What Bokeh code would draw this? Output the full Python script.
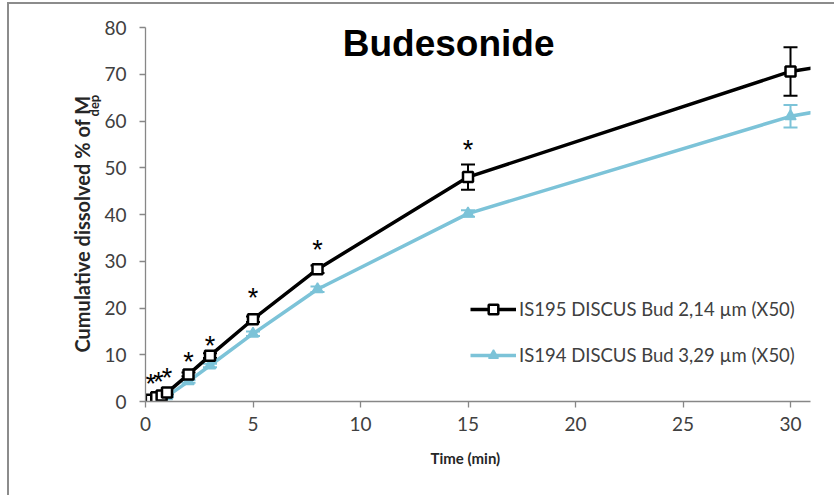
from bokeh.plotting import figure
from bokeh.models import (ColumnDataSource, Range1d, FixedTicker, Label, Legend,
                          LegendItem, Whisker, TeeHead, Title)
from bokeh.core.properties import value
from bokeh.embed import file_html
from bokeh.resources import INLINE

# ---- data ----
time_min = [0, 0.25, 0.5, 0.75, 1, 2, 3, 5, 8, 15, 30, 45]
bud_214 = [0, 0.4, 0.9, 1.3, 1.9, 5.8, 9.8, 17.6, 28.3, 48.0, 70.6, 81.5]
bud_214_sd = [0, 0.1, 0.1, 0.2, 0.2, 0.4, 0.5, 0.6, 0.8, 2.7, 5.2, 4.0]
bud_329 = [0, 0.2, 0.4, 0.7, 1.1, 4.3, 7.7, 14.5, 24.0, 40.2, 61.0, 73.5]
bud_329_sd = [0, 0.1, 0.1, 0.1, 0.2, 0.3, 0.4, 0.5, 0.6, 0.7, 2.4, 2.0]
star_time = [0.25, 0.6, 1.0, 2, 3, 5, 8, 15]
star_level = [4.9, 5.3, 6.0, 9.6, 13.0, 23.3, 33.4, 54.8]
x_ticks = [0, 5, 10, 15, 20, 25, 30]
y_ticks = [0, 10, 20, 30, 40, 50, 60, 70, 80]
label_214 = "IS195 DISCUS Bud 2,14 µm (X50)"
label_329 = "IS194 DISCUS Bud 3,29 µm (X50)"

BLACK = "#000000"
CYAN = "#7cc3d8"
AXIS = "#878787"
TXT = "#404040"
LBL = "#262626"
FONT = "Lato"

p = figure(width=827, height=493, output_backend="svg", toolbar_location=None,
           x_range=Range1d(0, 30.93), y_range=Range1d(0, 80),
           min_border_left=136, min_border_right=26, min_border_top=23,
           min_border_bottom=96)
p.styles = {"margin-left": "7px", "margin-top": "2px",
            "border-left": "2px solid #8c8c8c", "border-top": "2px solid #8c8c8c"}
p.outline_line_color = None
p.xgrid.visible = False
p.ygrid.visible = False

for ax in (p.xaxis[0], p.yaxis[0]):
    ax.axis_line_color = AXIS
    ax.axis_line_width = 1.3
    ax.major_tick_line_color = AXIS
    ax.major_tick_line_width = 1.3
    ax.major_tick_out = 6
    ax.major_tick_in = 0
    ax.minor_tick_line_color = None
    ax.major_label_text_font = FONT
    ax.major_label_text_font_size = "19px"
    ax.major_label_text_color = TXT

p.xaxis.ticker = FixedTicker(ticks=x_ticks)
p.yaxis.ticker = FixedTicker(ticks=y_ticks)
p.xaxis.major_label_standoff = 9
p.yaxis.major_label_standoff = 13

src_a = ColumnDataSource(dict(t=time_min, y=bud_214,
                              lo=[v - s for v, s in zip(bud_214, bud_214_sd)],
                              hi=[v + s for v, s in zip(bud_214, bud_214_sd)]))
src_b = ColumnDataSource(dict(t=time_min, y=bud_329,
                              lo=[v - s for v, s in zip(bud_329, bud_329_sd)],
                              hi=[v + s for v, s in zip(bud_329, bud_329_sd)]))

wb = Whisker(source=src_b, base="t", lower="lo", upper="hi", line_color=CYAN, line_width=2,
             upper_head=TeeHead(size=14, line_color=CYAN, line_width=2),
             lower_head=TeeHead(size=14, line_color=CYAN, line_width=2), level="underlay")
wa = Whisker(source=src_a, base="t", lower="lo", upper="hi", line_color=BLACK, line_width=2,
             upper_head=TeeHead(size=14, line_color=BLACK, line_width=2),
             lower_head=TeeHead(size=14, line_color=BLACK, line_width=2), level="underlay")
p.add_layout(wb)
p.add_layout(wa)

lb = p.line("t", "y", source=src_b, line_color=CYAN, line_width=3.5)
mb = p.scatter("t", "y", source=src_b, marker="triangle", size=11,
               fill_color=CYAN, line_color=CYAN, line_width=1.5)
la = p.line("t", "y", source=src_a, line_color=BLACK, line_width=3.5)
ma = p.scatter("t", "y", source=src_a, marker="square", size=10,
               fill_color="white", line_color=BLACK, line_width=2.5)

p.text(x=star_time, y=star_level, text=["*"] * len(star_time), text_align="center",
       text_baseline="middle", text_font=value("Liberation Sans"), text_font_size="27px",
       text_color=BLACK, y_offset=5)

legend = Legend(items=[LegendItem(label=label_214, renderers=[la, ma]),
                       LegendItem(label=label_329, renderers=[lb, mb])],
                location=(325, 34), orientation="vertical",
                label_text_font=FONT, label_text_font_size="18.5px", label_text_color=TXT,
                glyph_width=46, glyph_height=24, label_height=24, spacing=22,
                padding=0, margin=0, label_standoff=3,
                background_fill_alpha=0, border_line_color=None)
p.add_layout(legend)

p.add_layout(Label(x=14.1, y=76.6, text="Budesonide", text_align="center",
                   text_baseline="middle", text_font="Liberation Sans",
                   text_font_style="bold", text_font_size="37px", text_color=BLACK))

# axis titles as side-panel titles (not clipped to the frame)
xt = Title(text="Time (min)", align="left", offset=285, standoff=26,
           text_font=FONT, text_font_style="bold", text_font_size="15px", text_color=LBL)
p.add_layout(xt, "below")
dep_t = Title(text="dep", align="left", offset=285, standoff=0,
              text_font=FONT, text_font_style="bold", text_font_size="13px", text_color=LBL)
main_t = Title(text="Cumulative dissolved % of M", align="left", offset=49, standoff=-21,
               text_font=FONT, text_font_style="bold", text_font_size="20px", text_color=LBL)
p.add_layout(dep_t, "left")
p.add_layout(main_t, "left")
p.left = [p.yaxis[0], dep_t, main_t]

open("out.html", "w").write(file_html(p, INLINE))
